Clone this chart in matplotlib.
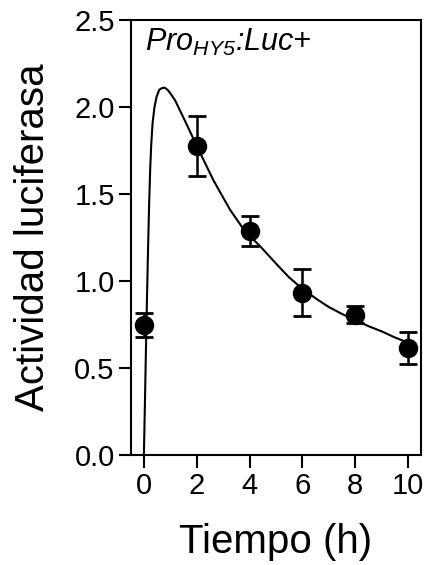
import matplotlib
matplotlib.use("Agg")
import matplotlib.pyplot as plt

# Measured luciferase activity (mean +/- error)
TIME_H = [0, 2, 4, 6, 8, 10]
ACTIVITY = [0.747, 1.778, 1.289, 0.933, 0.806, 0.613]
ERR_LOW = [0.067, 0.173, 0.086, 0.134, 0.049, 0.092]
ERR_HIGH = [0.067, 0.174, 0.086, 0.134, 0.052, 0.092]

# Fitted curve, sampled
FIT_T = [0.00, 0.04, 0.08, 0.12, 0.16, 0.20, 0.24, 0.28, 0.33, 0.40,
         0.48, 0.58, 0.68, 0.78, 0.90, 1.00, 1.18, 1.37, 1.56, 1.87,
         2.12, 2.63, 3.00, 3.26, 3.76, 4.00, 4.40, 5.00, 5.50, 6.00,
         6.50, 7.00, 7.50, 8.00, 8.50, 9.00, 9.50, 10.00]
FIT_Y = [0.00, 0.30, 0.62, 0.92, 1.20, 1.45, 1.65, 1.79, 1.91, 2.00,
         2.06, 2.10, 2.11, 2.113, 2.10, 2.08, 2.04, 1.98, 1.92, 1.82,
         1.74, 1.58, 1.48, 1.41, 1.30, 1.26, 1.20, 1.10, 1.02, 0.955,
         0.90, 0.85, 0.81, 0.775, 0.74, 0.71, 0.675, 0.645]

YTICKS = [0.0, 0.5, 1.0, 1.5, 2.0, 2.5]
XTICKS = [0, 2, 4, 6, 8, 10]

plt.rcParams["font.family"] = ["Liberation Sans", "DejaVu Sans"]
plt.rcParams["mathtext.fontset"] = "custom"
plt.rcParams["mathtext.rm"] = "Liberation Sans:italic"
plt.rcParams["mathtext.it"] = "Liberation Sans:italic"

fig = plt.figure(figsize=(4.27, 5.65), dpi=100)
ax = fig.add_axes([0.306, 0.195, 0.681, 0.769])

ax.plot(FIT_T, FIT_Y, color="black", lw=1.5, zorder=2)
ax.errorbar(TIME_H, ACTIVITY, yerr=[ERR_LOW, ERR_HIGH], fmt="o",
            color="black", ms=13, elinewidth=1.8, capsize=6.5,
            capthick=2, zorder=3)

ax.set_xlim(-0.5, 10.5)
ax.set_ylim(0, 2.5)
ax.set_xticks(XTICKS)
ax.set_yticks(YTICKS)
ax.set_yticklabels([f"{v:.1f}" for v in YTICKS])

for sp in ax.spines.values():
    sp.set_linewidth(1.5)
ax.tick_params(axis="both", width=1.5, length=9, labelsize=21)
ax.tick_params(axis="x", pad=3.5)
ax.tick_params(axis="y", pad=2.5)

ax.set_xlabel("Tiempo (h)", fontsize=29)
ax.set_ylabel("Actividad luciferasa", fontsize=29)
ax.xaxis.set_label_coords(0.5, -0.158)
ax.yaxis.set_label_coords(-0.272, 0.5)

ax.text(0.049, 0.93, r"Pro$_{HY5}$:Luc+",
        transform=ax.transAxes, ha="left", va="baseline", fontsize=22,
        style="italic")

fig.savefig("out.png", dpi=100)
